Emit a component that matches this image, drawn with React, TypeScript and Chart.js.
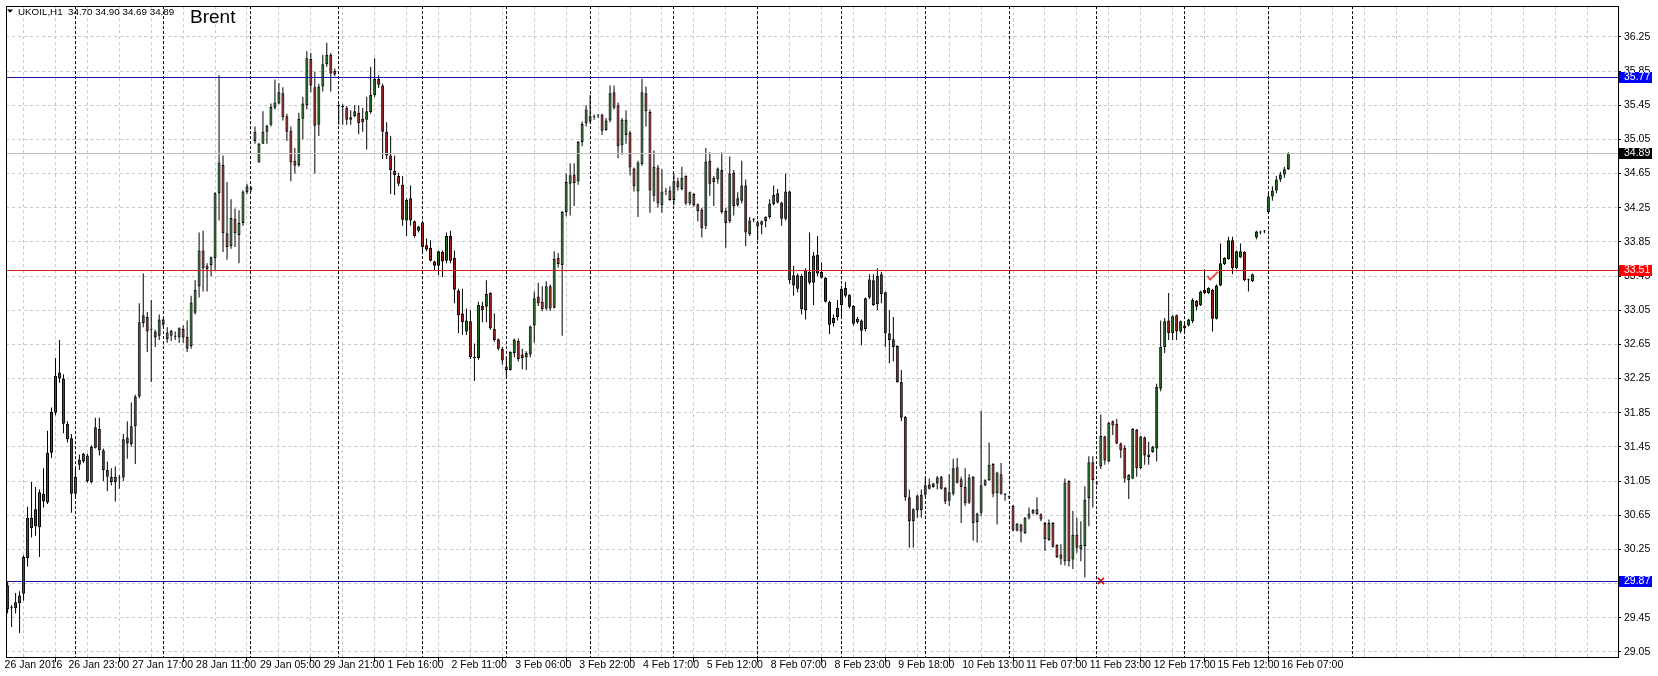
import React, { useEffect, useRef } from 'react';
import { Chart, registerables } from 'chart.js';

Chart.register(...registerables);

// ---------------- DATA (hourly UKOIL candles) ----------------
const OPEN = [
  29.83, 29.56, 29.56, 29.62, 29.73, 30.15, 30.50, 30.72, 30.51, 30.90,
  30.80, 31.38, 31.85, 32.32, 32.25, 31.72, 31.55, 30.90, 31.24, 31.28,
  31.35, 31.04, 31.44, 31.66, 31.41, 31.18, 31.10, 31.04, 31.08, 31.09,
  31.56, 31.48, 31.69, 32.04, 32.90, 32.97, 32.82, 32.80, 32.75, 32.94,
  32.71, 32.81, 32.75, 32.73, 32.83, 32.74, 32.63, 33.02, 33.33, 33.75,
  33.57, 33.58, 33.66, 34.42, 34.75, 33.95, 33.80, 34.12, 33.93, 34.07,
  34.43, 34.46, 35.03, 34.78, 35.00, 35.14, 35.22, 35.42, 35.47, 35.59,
  35.32, 35.15, 34.80, 34.75, 35.29, 35.45, 35.99, 35.66, 35.22, 35.67,
  35.93, 36.04, 35.85, 35.44, 35.44, 35.42, 35.28, 35.32, 35.36, 35.25,
  35.28, 35.37, 35.57, 35.76, 35.68, 35.14, 34.86, 34.68, 34.62, 34.52,
  34.10, 34.36, 34.09, 33.98, 34.08, 33.81, 33.78, 33.62, 33.57, 33.73,
  33.63, 33.92, 33.66, 33.28, 33.01, 32.80, 32.92, 32.49, 32.49, 33.10,
  33.09, 33.25, 32.83, 32.71, 32.60, 32.39, 32.35, 32.55, 32.69, 32.53,
  32.50, 32.53, 32.87, 33.21, 33.15, 33.07, 33.33, 33.08, 33.66, 33.58,
  34.20, 34.53, 34.64, 34.56, 35.02, 35.24, 35.26, 35.31, 35.33, 35.34,
  35.16, 35.27, 35.60, 35.45, 34.98, 35.10, 35.13, 34.71, 34.44, 34.76,
  35.59, 35.37, 34.39, 34.72, 34.28, 34.44, 34.45, 34.34, 34.56, 34.47,
  34.62, 34.30, 34.41, 34.29, 34.23, 34.04, 34.80, 34.55, 34.58, 34.69,
  34.21, 34.09, 34.66, 34.28, 34.33, 34.51, 33.94, 34.11, 34.03, 34.05,
  34.09, 34.14, 34.29, 34.42, 34.31, 34.12, 34.44, 33.46, 33.30, 33.45,
  33.05, 33.50, 33.37, 33.70, 33.50, 33.43, 33.15, 32.90, 32.97, 33.11,
  33.31, 33.23, 33.10, 32.91, 32.93, 32.83, 33.20, 33.40, 33.12, 33.47,
  33.26, 32.78, 32.71, 32.63, 32.21, 31.80, 30.86, 30.58, 30.71, 30.89,
  30.89, 31.01, 30.98, 31.02, 31.10, 30.97, 30.82, 30.90, 31.21, 31.07,
  30.98, 30.80, 31.10, 30.57, 30.68, 31.00, 31.06, 31.25, 30.91, 31.13,
  30.89, 30.86, 30.76, 30.47, 30.54, 30.44, 30.62, 30.67, 30.72, 30.66,
  30.56, 30.36, 30.56, 30.30, 30.19, 30.11, 31.05, 30.13, 30.42, 30.25,
  30.29, 30.85, 31.27, 31.03, 31.22, 31.57, 31.28, 31.75, 31.72, 31.49,
  31.44, 31.06, 31.08, 31.65, 31.20, 31.56, 31.33, 31.39, 31.43, 32.13,
  32.62, 32.93, 32.78, 32.99, 32.80, 32.87, 32.87, 32.92, 33.16, 33.11,
  33.29, 33.25, 33.29, 32.95, 33.34, 33.59, 33.65, 33.87, 33.54, 33.67,
  33.73, 33.40, 33.39, 33.90, 33.96, 33.97, 34.20, 34.38, 34.45, 34.58,
  34.64, 34.70,
];

const HIGH = [
  29.88, 29.60, 29.74, 29.76, 30.18, 30.75, 31.04, 30.98, 30.95, 31.20,
  31.64, 31.91, 32.49, 32.70, 32.30, 31.75, 31.60, 31.21, 31.36, 31.38,
  31.37, 31.47, 31.79, 31.79, 31.43, 31.28, 31.20, 31.22, 31.12, 31.60,
  31.75, 31.97, 32.06, 33.13, 33.48, 33.03, 33.17, 32.82, 33.00, 32.96,
  32.85, 32.82, 32.80, 32.85, 32.87, 32.93, 33.22, 33.40, 33.96, 33.98,
  33.60, 33.68, 34.43, 35.80, 34.86, 34.55, 34.35, 34.24, 34.22, 34.45,
  34.53, 34.50, 35.20, 35.01, 35.38, 35.22, 35.47, 35.75, 35.71, 35.66,
  35.35, 35.20, 34.95, 35.36, 35.55, 36.08, 36.06, 35.84, 35.70, 36.04,
  36.18, 36.06, 35.88, 35.46, 35.46, 35.44, 35.39, 35.45, 35.45, 35.42,
  35.55, 35.90, 36.00, 35.80, 35.70, 35.25, 35.09, 34.86, 34.66, 34.62,
  34.36, 34.51, 34.10, 34.04, 34.10, 33.89, 33.87, 33.63, 33.75, 33.75,
  33.96, 33.98, 33.75, 33.30, 33.30, 33.07, 33.05, 32.66, 33.15, 33.15,
  33.40, 33.26, 33.01, 32.72, 32.62, 32.50, 32.57, 32.72, 32.72, 32.60,
  32.57, 32.87, 33.27, 33.37, 33.33, 33.39, 33.35, 33.74, 33.72, 34.21,
  34.65, 34.77, 34.77, 35.03, 35.26, 35.45, 35.57, 35.34, 35.34, 35.35,
  35.30, 35.68, 35.68, 35.48, 35.30, 35.39, 35.15, 34.72, 34.80, 35.76,
  35.67, 35.40, 34.92, 34.75, 34.70, 34.48, 34.50, 34.65, 34.60, 34.73,
  34.63, 34.44, 34.42, 34.30, 34.25, 34.95, 34.90, 34.62, 34.72, 34.90,
  34.25, 34.85, 34.69, 34.43, 34.80, 34.58, 34.14, 34.13, 34.10, 34.10,
  34.15, 34.35, 34.51, 34.47, 34.32, 34.65, 34.45, 33.57, 33.48, 33.47,
  33.54, 33.96, 33.73, 33.92, 33.61, 33.44, 33.16, 33.00, 33.17, 33.34,
  33.38, 33.24, 33.11, 32.97, 32.94, 33.20, 33.47, 33.47, 33.54, 33.50,
  33.27, 33.05, 32.97, 32.64, 32.35, 31.81, 30.95, 30.73, 30.89, 30.95,
  31.09, 31.08, 31.03, 31.11, 31.11, 30.98, 31.13, 31.31, 31.32, 31.10,
  31.20, 31.13, 31.11, 30.68, 31.87, 31.07, 31.50, 31.26, 31.16, 31.26,
  30.91, 30.88, 30.77, 30.56, 30.55, 30.63, 30.74, 30.72, 30.86, 30.67,
  30.57, 30.60, 30.57, 30.31, 30.31, 31.08, 31.06, 30.70, 30.62, 30.58,
  30.99, 31.34, 31.34, 31.05, 31.83, 31.58, 31.74, 31.76, 31.78, 31.50,
  31.47, 31.13, 31.67, 31.66, 31.58, 31.57, 31.51, 31.46, 32.19, 32.93,
  32.96, 33.25, 32.99, 33.00, 32.93, 32.90, 32.95, 33.19, 33.17, 33.28,
  33.53, 33.32, 33.30, 33.35, 33.83, 33.67, 33.91, 33.91, 33.75, 33.83,
  33.74, 33.42, 33.48, 33.98, 33.98, 33.99, 34.42, 34.50, 34.62, 34.67,
  34.73, 34.90,
];

const LOW = [
  29.50, 29.34, 29.50, 29.27, 29.65, 30.05, 30.39, 30.41, 30.16, 30.74,
  30.78, 31.32, 31.82, 32.20, 31.61, 31.50, 30.68, 30.85, 31.18, 31.26,
  31.03, 31.02, 31.43, 31.35, 31.05, 30.93, 31.00, 30.81, 30.96, 31.05,
  31.31, 31.45, 31.25, 32.02, 32.85, 32.56, 32.21, 32.62, 32.70, 32.85,
  32.67, 32.69, 32.70, 32.67, 32.67, 32.56, 32.60, 33.00, 33.20, 33.27,
  33.27, 33.45, 33.51, 34.10, 33.73, 33.64, 33.77, 33.79, 33.60, 34.04,
  34.41, 34.44, 35.00, 34.78, 35.00, 35.00, 35.20, 35.40, 35.46, 35.27,
  35.03, 34.56, 34.65, 34.73, 35.05, 35.40, 35.60, 34.65, 35.09, 35.61,
  35.90, 35.61, 35.79, 35.22, 35.22, 35.22, 35.22, 35.31, 35.11, 35.14,
  34.93, 35.35, 35.55, 35.65, 34.82, 34.82, 34.41, 34.40, 34.50, 34.04,
  33.92, 34.04, 33.90, 33.96, 33.73, 33.74, 33.62, 33.52, 33.46, 33.44,
  33.60, 33.60, 33.13, 32.78, 32.76, 32.76, 32.48, 32.22, 32.47, 32.91,
  32.91, 32.82, 32.68, 32.58, 32.41, 32.27, 32.34, 32.50, 32.45, 32.36,
  32.35, 32.50, 32.67, 33.10, 33.04, 33.05, 33.04, 33.07, 33.55, 32.75,
  34.15, 34.16, 34.27, 34.52, 34.97, 35.20, 35.24, 35.28, 35.30, 35.10,
  35.15, 35.25, 35.40, 34.83, 34.87, 35.00, 34.63, 34.44, 34.14, 34.74,
  35.20, 34.19, 34.32, 34.25, 34.19, 34.40, 34.33, 34.28, 34.45, 34.45,
  34.28, 34.28, 34.26, 34.09, 33.90, 34.00, 34.39, 34.27, 34.53, 34.18,
  33.78, 34.07, 34.16, 34.26, 34.30, 33.80, 33.92, 34.08, 33.87, 33.94,
  34.02, 34.12, 34.28, 34.30, 34.04, 34.10, 33.36, 33.22, 33.26, 33.00,
  32.94, 33.35, 33.11, 33.45, 33.42, 33.14, 32.77, 32.86, 32.93, 32.95,
  33.20, 33.07, 32.87, 32.89, 32.64, 32.80, 33.18, 33.10, 33.05, 33.13,
  32.62, 32.43, 32.45, 32.20, 31.75, 30.82, 30.27, 30.27, 30.62, 30.62,
  30.86, 30.95, 30.97, 30.95, 30.95, 30.78, 30.76, 30.88, 31.02, 30.56,
  30.76, 30.78, 30.35, 30.33, 30.64, 30.99, 31.05, 30.86, 30.54, 30.89,
  30.82, 30.84, 30.46, 30.46, 30.33, 30.43, 30.60, 30.66, 30.65, 30.58,
  30.23, 30.35, 30.27, 30.15, 30.07, 30.06, 30.05, 30.02, 30.21, 30.11,
  29.92, 30.52, 30.74, 31.00, 31.19, 31.24, 31.27, 31.59, 31.48, 31.32,
  31.03, 30.84, 31.07, 31.10, 31.19, 31.24, 31.24, 31.38, 31.28, 32.10,
  32.55, 32.70, 32.70, 32.70, 32.78, 32.80, 32.86, 32.90, 33.05, 33.10,
  33.24, 33.24, 32.80, 32.94, 33.33, 33.58, 33.64, 33.47, 33.53, 33.66,
  33.39, 33.27, 33.38, 33.88, 33.94, 33.95, 34.18, 34.33, 34.42, 34.55,
  34.60, 34.69,
];

const CLOSE = [
  29.55, 29.57, 29.63, 29.71, 30.16, 30.62, 30.62, 30.52, 30.92, 30.81,
  31.38, 31.86, 32.28, 32.25, 31.72, 31.54, 30.90, 31.10, 31.30, 31.37,
  31.05, 31.45, 31.68, 31.41, 31.18, 31.10, 31.04, 31.10, 31.08, 31.54,
  31.49, 31.69, 32.04, 32.91, 32.99, 32.80, 32.82, 32.73, 32.94, 32.88,
  32.79, 32.75, 32.74, 32.84, 32.73, 32.60, 33.14, 33.29, 33.75, 33.54,
  33.53, 33.67, 34.42, 34.78, 33.95, 33.79, 34.13, 33.95, 34.07, 34.44,
  34.50, 34.49, 35.14, 35.00, 35.14, 35.21, 35.43, 35.48, 35.60, 35.31,
  35.14, 34.78, 34.74, 35.29, 35.47, 36.00, 35.68, 35.21, 35.67, 35.93,
  36.04, 35.82, 35.81, 35.44, 35.43, 35.28, 35.31, 35.38, 35.24, 35.29,
  35.38, 35.57, 35.76, 35.69, 35.14, 34.86, 34.69, 34.63, 34.53, 34.11,
  34.34, 34.10, 33.92, 34.03, 33.79, 33.76, 33.63, 33.57, 33.74, 33.62,
  33.92, 33.63, 33.29, 32.99, 32.91, 32.93, 32.50, 32.49, 33.11, 33.05,
  33.24, 32.84, 32.70, 32.60, 32.46, 32.35, 32.56, 32.70, 32.48, 32.49,
  32.55, 32.86, 33.19, 33.13, 33.06, 33.33, 33.07, 33.65, 33.59, 34.20,
  34.55, 34.63, 34.54, 35.02, 35.23, 35.40, 35.32, 35.31, 35.33, 35.15,
  35.27, 35.59, 35.42, 34.97, 35.28, 35.28, 34.72, 34.50, 34.78, 35.60,
  35.38, 34.45, 34.73, 34.30, 34.44, 34.44, 34.34, 34.56, 34.49, 34.60,
  34.30, 34.43, 34.28, 34.21, 34.01, 34.79, 34.53, 34.60, 34.71, 34.20,
  34.07, 34.65, 34.27, 34.36, 34.51, 33.96, 34.10, 34.11, 34.08, 34.09,
  34.14, 34.30, 34.40, 34.31, 34.12, 34.44, 33.40, 33.34, 33.46, 33.06,
  33.52, 33.37, 33.69, 33.48, 33.43, 33.15, 32.88, 32.96, 33.08, 33.30,
  33.22, 33.09, 32.89, 32.95, 32.81, 33.19, 33.41, 33.11, 33.45, 33.24,
  32.78, 32.70, 32.62, 32.21, 31.79, 30.86, 30.58, 30.72, 30.88, 30.71,
  31.00, 30.96, 31.02, 31.09, 30.96, 30.81, 30.92, 31.20, 31.03, 30.98,
  30.79, 31.09, 30.56, 30.67, 31.00, 31.06, 31.24, 30.90, 31.15, 30.90,
  30.89, 30.86, 30.47, 30.55, 30.46, 30.62, 30.67, 30.71, 30.66, 30.60,
  30.37, 30.56, 30.28, 30.16, 30.14, 31.03, 30.11, 30.42, 30.27, 30.30,
  30.83, 31.27, 31.06, 31.02, 31.58, 31.29, 31.73, 31.70, 31.49, 31.41,
  31.08, 31.12, 31.66, 31.20, 31.57, 31.35, 31.36, 31.45, 32.15, 32.62,
  32.92, 32.78, 32.98, 32.80, 32.92, 32.84, 32.94, 33.17, 33.09, 33.27,
  33.25, 33.31, 32.95, 33.34, 33.60, 33.66, 33.87, 33.54, 33.74, 33.74,
  33.40, 33.40, 33.47, 33.97, 33.96, 33.97, 34.38, 34.45, 34.58, 34.64,
  34.70, 34.89,
];

// time labels, one every LABEL_EVERY bars starting at bar 0
const X_LABELS = [
  '26 Jan 2016', '26 Jan 23:00', '27 Jan 17:00', '28 Jan 11:00', '29 Jan 05:00',
  '29 Jan 21:00', '1 Feb 16:00', '2 Feb 11:00', '3 Feb 06:00', '3 Feb 22:00',
  '4 Feb 17:00', '5 Feb 12:00', '8 Feb 07:00', '8 Feb 23:00', '9 Feb 18:00',
  '10 Feb 13:00', '11 Feb 07:00', '11 Feb 23:00', '12 Feb 17:00', '15 Feb 12:00',
  '16 Feb 07:00',
];
const LABEL_EVERY = 16;
const GRID_EVERY = 8;

const Y_TICKS = [
  29.05, 29.45, 29.85, 30.25, 30.65, 31.05, 31.45, 31.85, 32.25, 32.65,
  33.05, 33.45, 33.85, 34.25, 34.65, 35.05, 35.45, 35.85, 36.25,
];

// bar index of the first bar of each trading day (period separators)
const DAY_SEPARATORS = [17, 39, 61, 83, 104, 125, 146, 167, 188, 209, 230, 251, 273, 295, 316, 337];

// horizontal support / resistance levels
const LEVEL_VALUES = [35.77, 33.51, 29.87];
const LEVEL_LINE_COLORS = ['#1414a8', '#d81e1e', '#1414a8'];
const LEVEL_BOX_COLORS = ['#0000ff', '#ff0000', '#0000ff'];

// trade markers (bar index, price)
const CROSS_MARKS = [{ x: 274, y: 29.88 }];
const CHECK_MARKS = [{ x: 302, y: 33.45 }];

const SYMBOL = 'UKOIL,H1';
const TITLE = 'Brent';

// ---------------- view ----------------
const X_MIN = -0.375;
const X_MAX = 403.625;
const Y_MIN = 28.99;
const Y_MAX = 36.61;

const BULL = '#227022';
const BEAR = '#a32222';
const FONT = '"Liberation Sans", Arial, sans-serif';

const GRID_TICKS: number[] = [];
for (let v = 0; v <= 400; v += GRID_EVERY) GRID_TICKS.push(v);

export default function App() {
  const ref = useRef<HTMLCanvasElement>(null);

  useEffect(() => {
    const canvas = ref.current;
    if (!canvas) return;

    const checkImg = document.createElement('canvas');
    checkImg.width = 12;
    checkImg.height = 10;
    const cc = checkImg.getContext('2d')!;
    cc.strokeStyle = '#e80000';
    cc.lineWidth = 1.3;
    cc.beginPath();
    cc.moveTo(0.8, 4.6);
    cc.lineTo(3.4, 8.8);
    cc.lineTo(11.3, 0.8);
    cc.stroke();

    const n = CLOSE.length;
    const wickData = CLOSE.map((_, i) => ({ x: i, y: [LOW[i], HIGH[i]] }));
    const bodyData = CLOSE.map((c, i) => ({ x: i, y: [OPEN[i], c] }));
    const bodyColors = CLOSE.map((c, i) => (c >= OPEN[i] ? BULL : BEAR));

    const last = n - 1;
    const headerValues = [OPEN[last], HIGH[last], LOW[last], CLOSE[last]].map((v) => v.toFixed(2)).join(' ');
    const bid = CLOSE[last];

    const overlay = {
      id: 'mt4overlay',
      beforeDatasetsDraw(chart: any) {
        const { ctx, chartArea: a, scales } = chart;
        const xs = scales.x;
        ctx.save();
        ctx.strokeStyle = '#000';
        ctx.lineWidth = 1;
        ctx.setLineDash([3, 2]);
        for (const s of DAY_SEPARATORS) {
          const px = Math.floor(xs.getPixelForValue(s)) + 0.5;
          if (px < a.left || px > a.right) continue;
          ctx.beginPath();
          ctx.moveTo(px, a.top);
          ctx.lineTo(px, a.bottom);
          ctx.stroke();
        }
        ctx.restore();
      },
      afterDatasetsDraw(chart: any) {
        const { ctx, chartArea: a, scales } = chart;
        const ys = scales.y;
        ctx.save();
        ctx.lineWidth = 1;
        ctx.setLineDash([]);
        const by = Math.floor(ys.getPixelForValue(bid)) + 0.5;
        ctx.strokeStyle = '#c0c0c0';
        ctx.beginPath();
        ctx.moveTo(a.left, by);
        ctx.lineTo(a.right, by);
        ctx.stroke();
        LEVEL_VALUES.forEach((v, k) => {
          const py = Math.floor(ys.getPixelForValue(v)) + 0.5;
          ctx.strokeStyle = LEVEL_LINE_COLORS[k];
          ctx.beginPath();
          ctx.moveTo(a.left, py);
          ctx.lineTo(a.right, py);
          ctx.stroke();
        });
        ctx.restore();
      },
      afterDraw(chart: any) {
        const { ctx, chartArea: a, scales } = chart;
        const ys = scales.y;
        ctx.save();
        ctx.strokeStyle = '#000';
        ctx.lineWidth = 1;
        ctx.setLineDash([]);
        ctx.strokeRect(Math.round(a.left) + 0.5, Math.round(a.top) + 0.5, Math.round(a.right - a.left), Math.round(a.bottom - a.top));

        const box = (v: number, bg: string) => {
          const py = Math.floor(ys.getPixelForValue(v));
          ctx.fillStyle = bg;
          ctx.fillRect(Math.round(a.right) + 1, py - 5, 33, 11);
          ctx.fillStyle = '#fff';
          ctx.font = `10.5px ${FONT}`;
          ctx.textBaseline = 'middle';
          ctx.textAlign = 'left';
          ctx.fillText(v.toFixed(2), Math.round(a.right) + 6, py + 0.5);
        };
        box(bid, '#000');
        LEVEL_VALUES.forEach((v, k) => box(v, LEVEL_BOX_COLORS[k]));

        ctx.fillStyle = '#000';
        ctx.beginPath();
        ctx.moveTo(7, 9.5);
        ctx.lineTo(13, 9.5);
        ctx.lineTo(10, 12.8);
        ctx.closePath();
        ctx.fill();
        ctx.font = `9.8px ${FONT}`;
        ctx.textBaseline = 'alphabetic';
        ctx.textAlign = 'left';
        ctx.fillText(SYMBOL, 18, 15);
        ctx.fillText(headerValues, 68, 15);
        ctx.font = `19px ${FONT}`;
        ctx.fillText(TITLE, 190, 23);
        ctx.restore();
      },
    };

    const chart = new Chart(canvas, {
      type: 'bar',
      data: {
        datasets: [
          {
            type: 'scatter',
            data: CHECK_MARKS,
            pointStyle: checkImg,
            pointRadius: 5,
          } as any,
          {
            type: 'scatter',
            data: CROSS_MARKS,
            pointStyle: 'crossRot',
            pointRadius: 4.5,
            borderColor: '#e00000',
            backgroundColor: '#e00000',
            borderWidth: 1.6,
          } as any,
          {
            type: 'bar',
            data: bodyData as any,
            backgroundColor: bodyColors,
            borderColor: '#000',
            borderWidth: 1,
            borderSkipped: false,
            barThickness: 3,
            categoryPercentage: 1,
            barPercentage: 1,
            grouped: false,
            minBarLength: 1,
            inflateAmount: 0,
          } as any,
          {
            type: 'bar',
            data: wickData as any,
            backgroundColor: '#000',
            borderWidth: 0,
            barThickness: 1,
            categoryPercentage: 1,
            barPercentage: 1,
            grouped: false,
            inflateAmount: 0,
          } as any,
        ],
      },
      options: {
        animation: false,
        responsive: false,
        events: [],
        layout: { padding: { left: 2, top: 2, right: 0, bottom: 0 } },
        plugins: {
          legend: { display: false },
          tooltip: { enabled: false },
        },
        scales: {
          x: {
            type: 'linear',
            position: 'bottom',
            min: X_MIN,
            max: X_MAX,
            offset: false,
            afterBuildTicks: (s: any) => {
              s.ticks = GRID_TICKS.map((v) => ({ value: v }));
            },
            afterFit: (s: any) => {
              s.height = 19;
              s.paddingLeft = 0;
              s.paddingRight = 0;
            },
            ticks: {
              autoSkip: false,
              maxRotation: 0,
              minRotation: 0,
              align: 'start',
              padding: -3,
              labelOffset: -3,
              color: '#000',
              font: { family: FONT, size: 10.5 },
              callback: (v: any) => {
                const val = Number(v);
                if (val % LABEL_EVERY !== 0) return '';
                return X_LABELS[val / LABEL_EVERY] ?? '';
              },
            },
            grid: {
              color: '#c8c8c8',
              lineWidth: 1,
              drawTicks: true,
              tickLength: 5,
              tickBorderDash: [],
              tickColor: (c: any) => (c.tick && c.tick.value % LABEL_EVERY === 0 && c.tick.value / LABEL_EVERY < X_LABELS.length ? '#000' : 'rgba(0,0,0,0)'),
            },
            border: { display: false, dash: [3, 3] },
          } as any,
          y: {
            type: 'linear',
            position: 'right',
            min: Y_MIN,
            max: Y_MAX,
            afterBuildTicks: (s: any) => {
              s.ticks = Y_TICKS.map((v) => ({ value: v }));
            },
            afterFit: (s: any) => {
              s.width = 40;
              s.paddingTop = 0;
              s.paddingBottom = 0;
            },
            ticks: {
              padding: 3,
              color: '#000',
              font: { family: FONT, size: 10.5 },
              callback: (v: any) => Number(v).toFixed(2),
            },
            grid: {
              color: '#c8c8c8',
              lineWidth: 1,
              drawTicks: true,
              tickLength: 3,
              tickBorderDash: [],
              tickColor: '#000',
            },
            border: { display: false, dash: [3, 3] },
          } as any,
        },
      } as any,
      plugins: [overlay],
    });

    return () => chart.destroy();
  }, []);

  return (
    <div style={{ position: 'fixed', left: 0, top: 0, width: 1658, height: 676, background: '#fff' }}>
      <canvas ref={ref} width={1658} height={676} style={{ display: 'block', width: 1658, height: 676 }} />
    </div>
  );
}
